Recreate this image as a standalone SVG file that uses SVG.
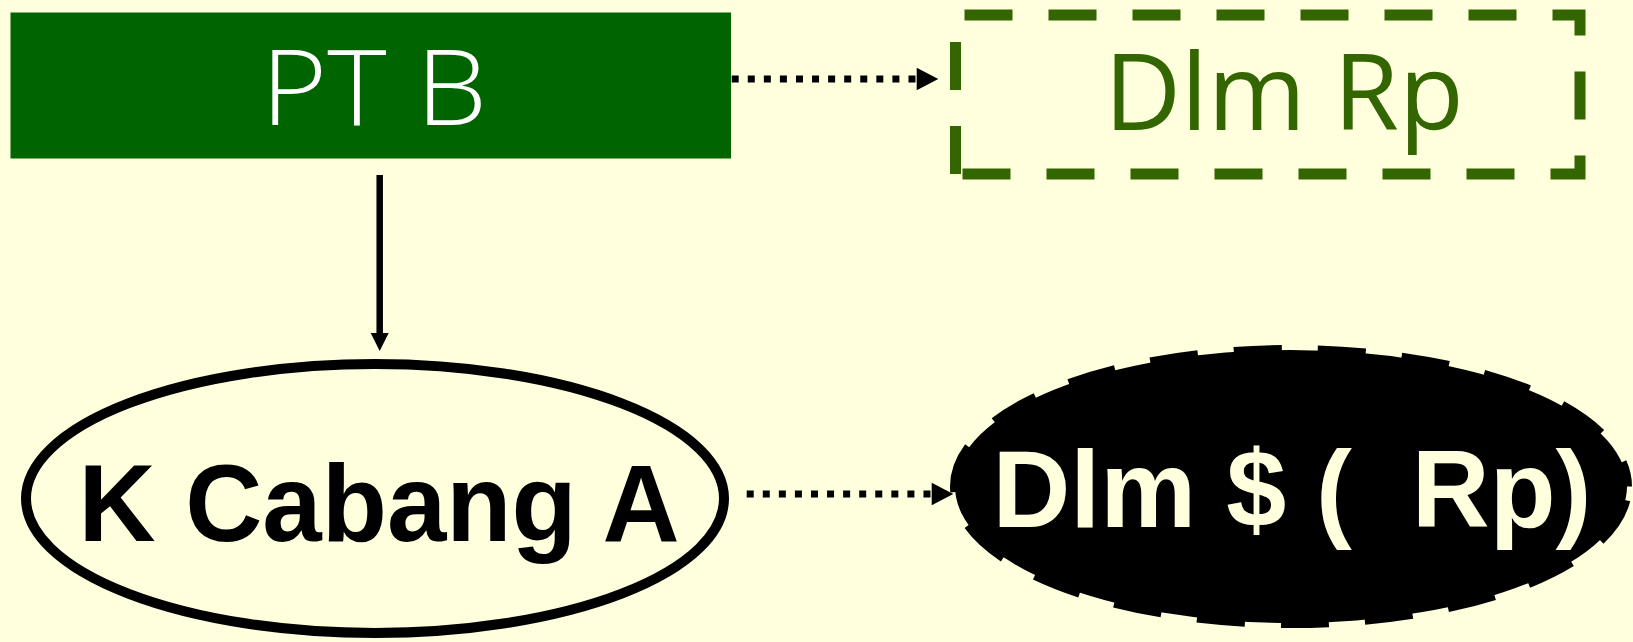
<svg xmlns="http://www.w3.org/2000/svg" width="1633" height="642" viewBox="0 0 1633 642">
  <style>
    .thin { font-family: "Open Sans", "Noto Sans", "DejaVu Sans", sans-serif; font-size: 106px; text-anchor: middle; }
    .bold { font-family: "Liberation Sans", Arial, sans-serif; font-weight: bold; font-size: 110px; text-anchor: middle; }
    .dotted { fill: none; stroke: #000; stroke-width: 7; stroke-dasharray: 7 9.07; }
    .solid { fill: none; stroke: #000; stroke-width: 6.5; }
    .head { fill: #000; }
  </style>
  <rect x="0" y="0" width="1633" height="642" fill="#ffffdd"/>

  <g id="pt-b">
    <rect x="10.5" y="12.5" width="720.5" height="146" fill="#006400"/>
    <text class="thin" x="374" y="125" fill="#ffffff" font-weight="300" textLength="226" lengthAdjust="spacingAndGlyphs">PT B</text>
  </g>

  <g id="dlm-rp">
    <path d="M955.5,174 V15 H1580 V174 Z" fill="none" stroke="#336600" stroke-width="11" stroke-dasharray="48 36"/>
    <text class="thin" x="1284" y="130" fill="#336600" font-size="104">Dlm Rp</text>
  </g>

  <g id="k-cabang-a">
    <ellipse cx="375" cy="498.5" rx="349" ry="134.5" fill="none" stroke="#000" stroke-width="10"/>
    <text class="bold" x="379" y="541" fill="#000" textLength="601" lengthAdjust="spacingAndGlyphs">K Cabang A</text>
  </g>

  <g id="dlm-usd-rp">
    <ellipse cx="1291" cy="486.5" rx="336" ry="136.5" fill="#000" stroke="#000" stroke-width="10" stroke-dasharray="48 36" stroke-dashoffset="70.2"/>
    <text class="bold" x="1292" y="527" fill="#ffffdd" xml:space="preserve" textLength="599" lengthAdjust="spacingAndGlyphs">Dlm $ (  Rp)</text>
  </g>

  <g id="connectors">
    <!-- PT B to Dlm Rp -->
    <line class="dotted" x1="731.7" y1="79" x2="916.7" y2="79"/>
    <polygon class="head" points="916.7,67.7 938.3,79 916.7,90.3"/>
    <!-- PT B to K Cabang A -->
    <line class="solid" x1="379.7" y1="175" x2="379.7" y2="334"/>
    <polygon class="head" points="370.7,333 388.7,333 379.7,351"/>
    <!-- K Cabang A to Dlm $ ( Rp) -->
    <line class="dotted" x1="746.7" y1="494" x2="931.7" y2="494"/>
    <polygon class="head" points="931.7,482.7 953.3,494 931.7,505.3"/>
  </g>
</svg>
